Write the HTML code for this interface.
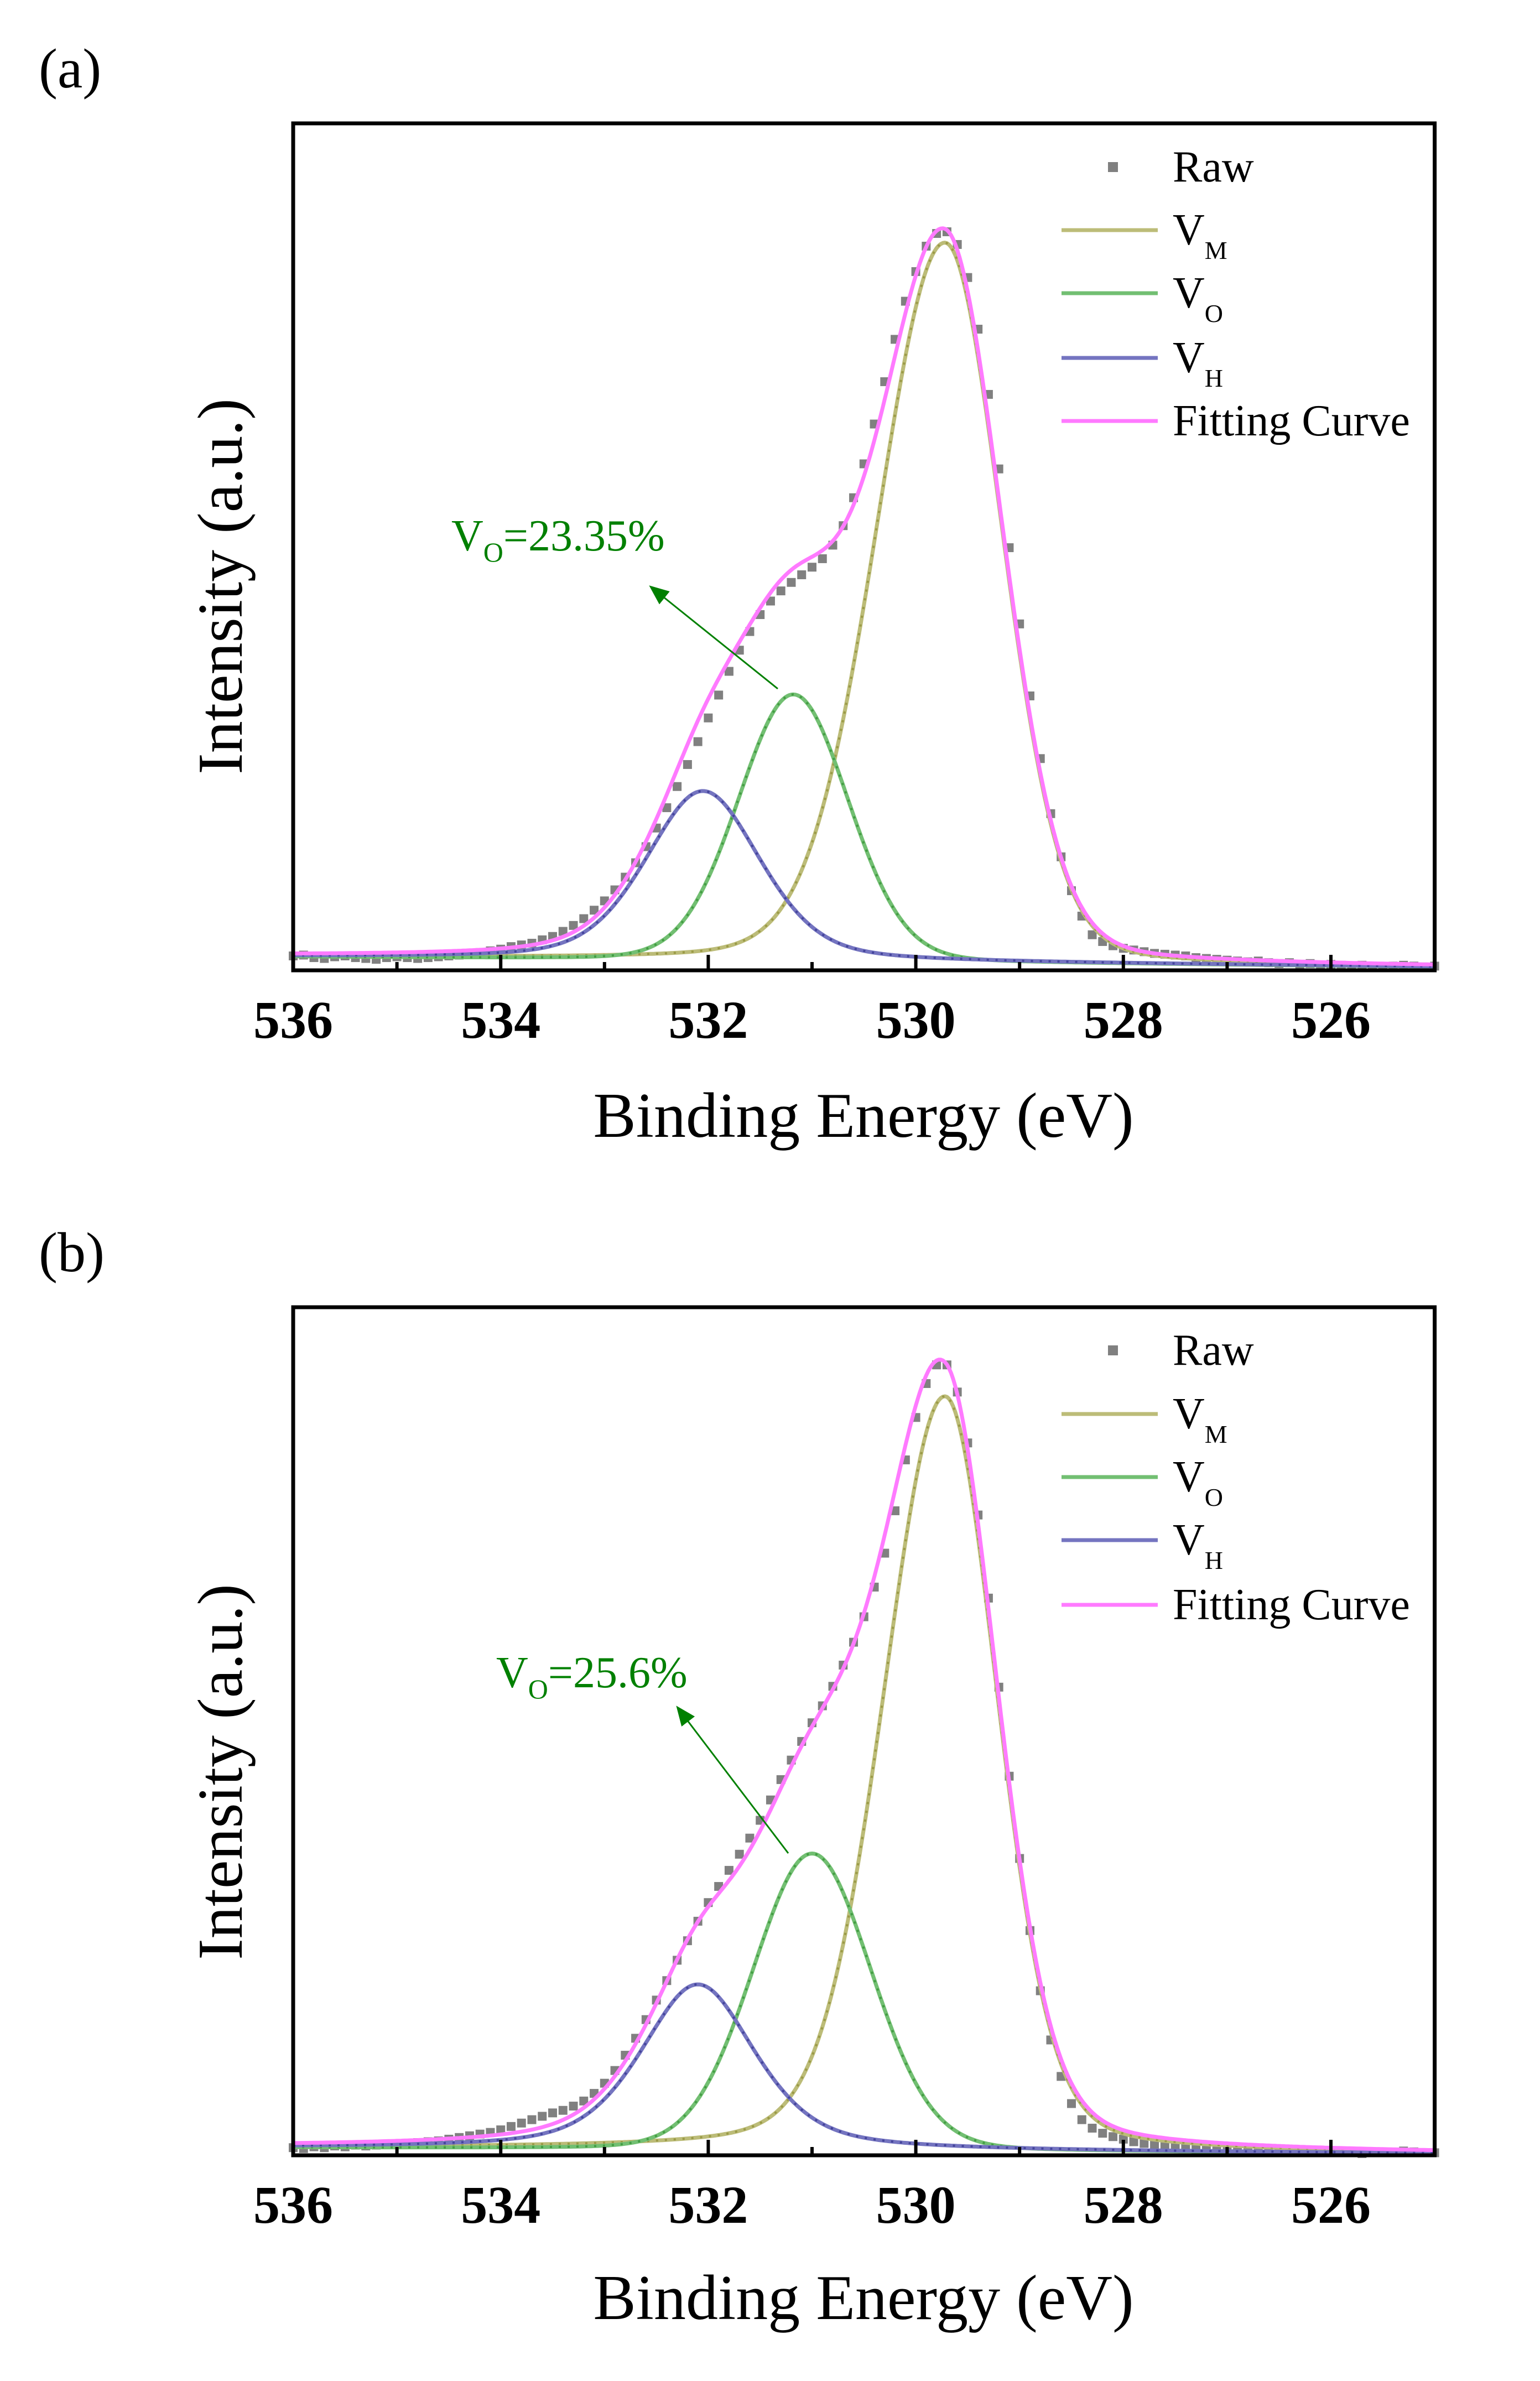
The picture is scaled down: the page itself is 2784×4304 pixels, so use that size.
<!DOCTYPE html>
<html><head><meta charset="utf-8">
<style>
html,body{margin:0;padding:0;background:#fff;}
svg{display:block;}
text{font-family:"Liberation Serif",serif;}
</style></head>
<body>
<svg id="fig" width="2784" height="4304" viewBox="0 0 2784 4304" xmlns="http://www.w3.org/2000/svg"></svg>
<script>
// ---- data (energies step from 536.0 down by 0.1 eV) ----
const energyStart = 536.0;
const energyStep = 0.1;
const xTicks = [536, 534, 532, 530, 528, 526];
const legendLabels = ["Raw", "V", "V", "V", "Fitting Curve"];
const legendSubs = ["", "M", "O", "H", ""];
const rawA = [1.7,1.8,1.5,1.4,1.6,1.7,1.5,1.4,1.3,1.5,1.6,1.5,1.4,1.5,1.6,
1.7,1.8,2.0,2.1,2.3,2.5,2.8,3.0,3.2,3.6,4.0,4.6,5.3,6.1,7.1,8.2,9.5,11.0,12.7,14.6,16.8,19.2,21.7,24.3,27.0,29.8,32.5,35.3,37.8,40.0,42.0,43.6,44.8,45.8,46.7,47.6,48.6,50.2,52.5,55.8,59.8,64.5,69.5,74.5,79.0,82.5,
85.5,87.0,87.2,85.7,81.8,75.7,68,59.2,49.9,40.9,32.4,25,18.5,13.4,9.4,6.4,4.2,
3.4,2.9,2.6,2.4,2.2,2.0,1.9,1.8,1.7,1.5,1.4,1.3,1.2,
1.1,1.0,1.1,0.9,0.8,0.9,0.7,0.8,0.6,0.7,0.6,0.5,0.6,0.5,0.4,0.5,0.6,0.5,0.4,0.5];
const rawB = [0.9,0.8,1.0,0.9,1.1,1.0,1.2,1.1,1.2,1.3,1.3,1.4,1.5,1.6,
1.7,1.9,2.1,2.3,2.5,2.7,3.0,3.4,3.8,4.2,4.6,5.0,5.3,5.8,6.4,7.3,8.5,10,11.8,13.8,16,18.3,20.6,23,25.3,27.6,29.8,31.7,33.6,35.5,37.4,39.5,41.9,44.3,46.6,48.8,51,53,55.3,57.8,60.5,63.5,67,71,76,82,87,91,93.2,
93.2,90,84,75.5,65.7,55.2,44.7,35,26.5,19.4,13.6,9.3,6.1,4.2,3.2,
2.6,2.2,1.9,1.6,1.4,1.2,1.0,0.9,0.8,0.7,0.6,0.5,
0.5,0.4,0.5,0.4,0.3,0.4,0.5,0.4,0.3,0.4,0.3,0.4,0.3,0.2,0.3,0.4,0.3,0.5,0.4,0.3,0.3];
// peak parameters: [VM, VO, VH]
const centersA = [529.72, 531.18, 532.05];
const heightsA = [85, 31.5, 20];
const fwhmHighA = [1.55, 1.25, 1.3];   // width on high-binding-energy side
const fwhmLowA = [1.3, 1.25, 1.3];     // width on low-binding-energy side
const lorFracA = [0.12, 0.1, 0.35];
const baselineA = [1.6, 0.4]; // at 536 and 525
const centersB = [529.72, 531.0, 532.10];
const heightsB = [89, 35, 19.5];
const fwhmHighB = [1.4, 1.35, 1.3];
const fwhmLowB = [1.2, 1.35, 1.3];
const lorFracB = [0.2, 0.1, 0.5];
const baselineB = [0.9, 0.2];
const annotA = "=23.35%";
const annotB = "=25.6%";

const NS = "http://www.w3.org/2000/svg";
const svg = document.getElementById("fig");
function mk(tag, attrs, parent){
  const e = document.createElementNS(NS, tag);
  for (const k in attrs) e.setAttribute(k, attrs[k]);
  (parent||svg).appendChild(e); return e;
}
const compColors = ["#bcbc78", "#72bf72", "#7474c0"];
const compDots = ["#8c8c30", "#2f8f2f", "#30308c"];
const compNames = ["vm-component-curve", "vo-component-curve", "vh-component-curve"];

function pv(E, c, A, wH, wL, eta){
  const w = E > c ? wH : wL;
  const u = Math.pow(2*(E-c)/w, 2);
  return A*((1-eta)*Math.pow(2, -u) + eta/(1+u));
}

function panel(o){
  const X0 = 530, KX = 187.6, yTop = o.top, yBot = o.bot, H = yBot - yTop;
  const xs = E => X0 + (536 - E)*KX;
  const ys = v => yBot - v/100*H;
  const g = mk("g", {});
  
  
  const base = E => o.base[0] + (o.base[1]-o.base[0])*(536-E)/11;
  const rg = mk("g", {}, g);
  
  
  o.raw.forEach((v,i)=>{
    const E = energyStart - i*energyStep;
    const r = mk("rect", {x: xs(E)-8, y: ys(v)-8, width: 16, height: 16, fill: "#808080"}, rg);
    
    
  });
  for (let k=0;k<3;k++){
    let d = "";
    for (let E=536; E>=524.999; E-=0.02){
      const v = base(E) + pv(E, o.c[k], o.h[k], o.wH[k], o.wL[k], o.eta[k]);
      d += (d?"L":"M") + xs(E).toFixed(1) + "," + ys(v).toFixed(1);
    }
    const p = mk("path", {d, fill:"none", stroke: compColors[k], "stroke-width": 7, "stroke-linejoin":"round"}, g);
    
    
    const p2 = mk("path", {d, fill:"none", stroke: compDots[k], "stroke-width": 4, "stroke-dasharray":"4 12", opacity:0.7}, g);
    
    
  }
  let d = "";
  for (let E=536; E>=524.999; E-=0.02){
    let v = base(E);
    for (let k=0;k<3;k++) v += pv(E, o.c[k], o.h[k], o.wH[k], o.wL[k], o.eta[k]);
    d += (d?"L":"M") + xs(E).toFixed(1) + "," + ys(v).toFixed(1);
  }
  const fp = mk("path", {d, fill:"none", stroke:"#ff7aff", "stroke-width": 7, "stroke-linejoin":"round"}, g);
  
  
  const fr = mk("rect", {x: X0, y: yTop, width: 11*KX, height: H, fill:"none", stroke:"#000", "stroke-width": 7}, g);
  
  
  for (let E=536; E>=525; E-=1){
    const major = (E % 2 === 0);
    const t = mk("line", {x1: xs(E), x2: xs(E), y1: yBot, y2: yBot - (major?28:15), stroke:"#000", "stroke-width": 6}, g);
    
    
  }
  xTicks.forEach(v=>{
    const t = mk("text", {x: xs(v), y: o.tickY, "font-size": 96, "font-weight":"bold", "text-anchor":"middle"}, g);
    t.textContent = String(v);
    
    
  });
  const xt = mk("text", {x: 1561, y: o.titleY, "font-size": 116, "text-anchor":"middle"}, g);
  xt.textContent = "Binding Energy (eV)";
  
  
  const yt = mk("text", {x: 0, y: 0, "font-size": 116, "text-anchor":"middle", transform:`translate(437,${o.yTitleC}) rotate(-90)`}, g);
  yt.textContent = "Intensity (a.u.)";
  
  
  const pl = mk("text", {x: 70, y: o.labelY, "font-size": 102}, g);
  pl.textContent = o.label;
  
  
  const lg = mk("g", {}, g);
  
  
  const legColors = ["#808080", compColors[0], compColors[1], compColors[2], "#ff7aff"];
  legendLabels.forEach((lab,i)=>{
    const y = o.legY[i];
    if (i===0){
      const m = mk("rect", {x: 2003, y: y-9, width: 18, height: 18, fill:"#808080"}, lg);
      
      
    } else {
      const l = mk("line", {x1: 1919, x2: 2093, y1: y, y2: y, stroke: legColors[i], "stroke-width": 7}, lg);
      
      
    }
    const t = mk("text", {x: 2120, y: y+26, "font-size": 80}, lg);
    
    
    t.textContent = lab;
    if (legendSubs[i]){
      const s = mk("tspan", {"font-size": 46, dy: 26}, t);
      s.textContent = legendSubs[i];
    }
  });
  const at = mk("text", {x: o.ann[0], y: o.ann[1], "font-size": 80, fill:"#008000"}, g);
  
  
  at.textContent = "V";
  const s1 = mk("tspan", {"font-size": 50, dy: 20}, at); s1.textContent = "O";
  const s2 = mk("tspan", {dy: -20}, at); s2.textContent = o.annText;
  const ar = mk("line", {x1: o.arrow[0], y1: o.arrow[1], x2: o.arrow[2], y2: o.arrow[3], stroke:"#008000", "stroke-width": 3, "marker-end":"url(#arrowhead)"}, g);
  
  
}

const defs = mk("defs", {});
const mkr = mk("marker", {id:"arrowhead", markerWidth: 12, markerHeight: 10, refX: 10, refY: 5, orient:"auto", markerUnits:"strokeWidth"}, defs);
mk("path", {d:"M0,0 L12,5 L0,10 Z", fill:"#008000"}, mkr);

panel({name:"panel-a", top:223, bot:1754, raw: rawA, c: centersA, h: heightsA, wH: fwhmHighA, wL: fwhmLowA, eta: lorFracA, base: baselineA,
  tickY: 1876, titleY: 2055, yTitleC: 1060, labelY: 158, label: "(a)",
  legY: [302, 416, 530, 647, 761], ann: [816, 995], annText: annotA, arrow: [1406, 1245, 1178, 1062]});
panel({name:"panel-b", top:2363, bot:3896, raw: rawB, c: centersB, h: heightsB, wH: fwhmHighB, wL: fwhmLowB, eta: lorFracB, base: baselineB,
  tickY: 4018, titleY: 4192, yTitleC: 3203, labelY: 2298, label: "(b)",
  legY: [2441, 2556, 2670, 2784, 2901], ann: [897, 3050], annText: annotB, arrow: [1425, 3350, 1226, 3088]});
</script>
</body></html>
